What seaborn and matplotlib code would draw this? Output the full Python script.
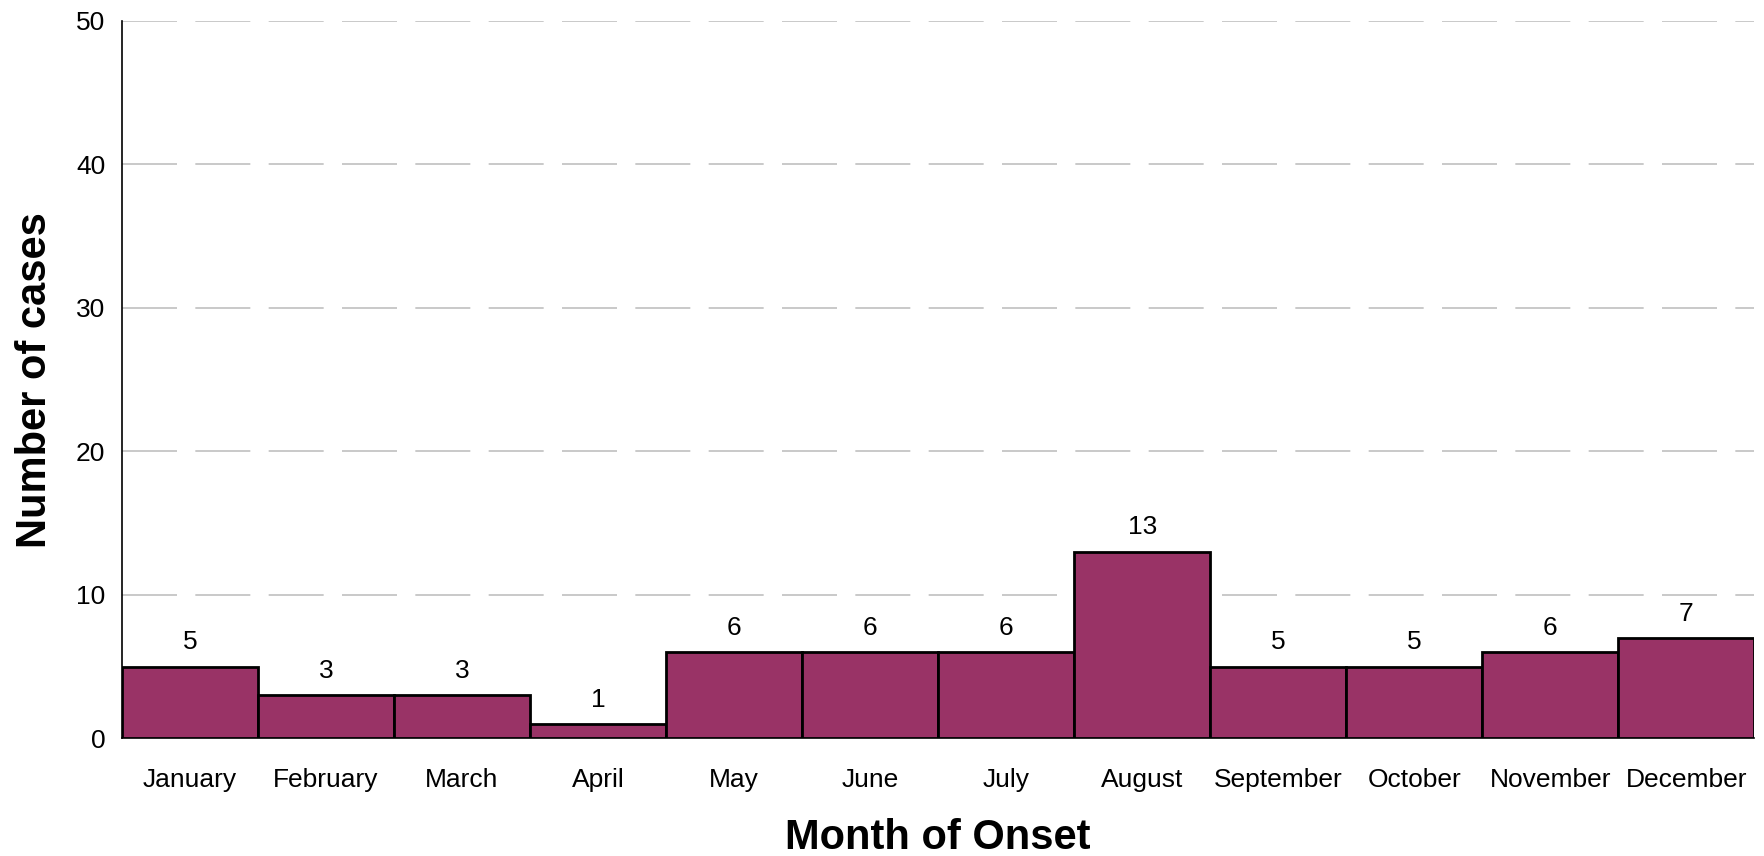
import numpy as np
import pandas as pd
import matplotlib
matplotlib.use("Agg")
import matplotlib.pyplot as plt
import seaborn as sns

# Cases by month of onset
months = ["January", "February", "March", "April", "May", "June",
          "July", "August", "September", "October", "November", "December"]
cases = [5, 3, 3, 1, 6, 6, 6, 13, 5, 5, 6, 7]

df = pd.DataFrame({"month": months, "cases": cases})

sns.set_style("white")
plt.rcParams["font.family"] = ["Liberation Sans", "DejaVu Sans"]
plt.rcParams["text.color"] = "black"
plt.rcParams["axes.labelcolor"] = "black"
plt.rcParams["xtick.color"] = "black"
plt.rcParams["ytick.color"] = "black"

fig = plt.figure(figsize=(17.65, 8.56), dpi=100)
ax = fig.add_axes([0.0691, 0.1373, 0.9248, 0.8382])

sns.barplot(data=df, x="month", y="cases", color="#993366", saturation=1,
            width=1.0, edgecolor="black", linewidth=2, ax=ax, zorder=3)

ax.bar_label(ax.containers[0], padding=9, fontsize=19, color="black")

ax.set_ylim(0, 50)
ax.set_xlim(-0.5, len(months) - 0.5)
ax.set_yticks(np.arange(0, 51, 10))
ax.yaxis.grid(True, color="#c0c0c0", linewidth=1.2, linestyle=(0, (33, 11)), zorder=0)
ax.xaxis.grid(False)

# month names centred under bars, tick marks at bar edges
ax.set_xticks(np.arange(len(months)))
ax.set_xticklabels(months)
ax.set_xticks(np.arange(len(months) + 1) - 0.5, minor=True)
ax.tick_params(axis="x", which="major", length=0, pad=21, labelsize=19)
ax.tick_params(axis="x", which="minor", length=7, width=1, color="black", direction="out")
ax.tick_params(axis="y", length=7, width=1, color="black", direction="out", labelsize=19, pad=5)

for s in ["top", "right"]:
    ax.spines[s].set_visible(False)
for s in ["left", "bottom"]:
    ax.spines[s].set_color("black")
    ax.spines[s].set_linewidth(1.2)

ax.set_xlabel("Month of Onset", fontsize=30, fontweight="bold", labelpad=19)
ax.set_ylabel("Number of cases", fontsize=30, fontweight="bold", labelpad=15)

fig.savefig("out.png", dpi=100)
